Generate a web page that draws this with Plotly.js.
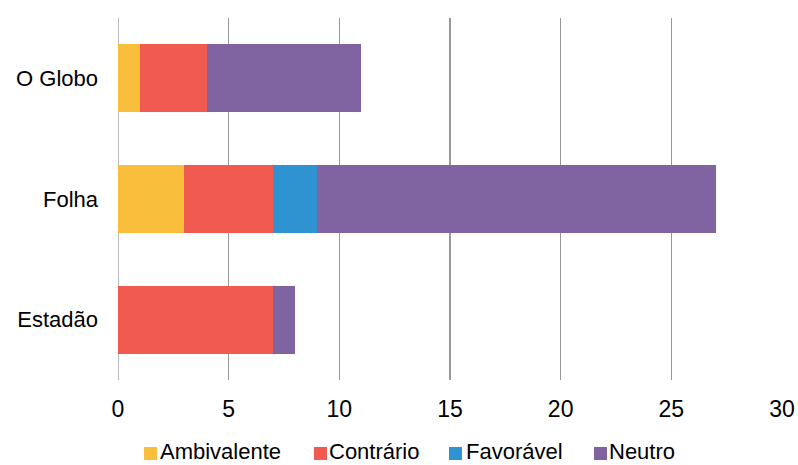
<!DOCTYPE html>
<html>
<head>
<meta charset="utf-8">
<script src="https://cdn.plot.ly/plotly-3.0.1.min.js"></script>
<style>html,body{margin:0;padding:0;background:#fff;}#chart{width:798px;height:465px;}</style>
</head>
<body>
<div id="chart"></div>
<script>
const categories = ["Estadão", "Folha", "O Globo"];
const seriesNames = ["Ambivalente", "Contrário", "Favorável", "Neutro"];
const ambivalente = [0, 3, 1];
const contrario = [7, 4, 3];
const favoravel = [0, 2, 0];
const neutro = [1, 18, 7];
const colors = ["#F9BE3C", "#F15A50", "#2E93D0", "#8064A2"];
const xTicks = [0, 5, 10, 15, 20, 25, 30];

const values = [ambivalente, contrario, favoravel, neutro];
const traces = seriesNames.map((name, i) => ({
  type: "bar",
  orientation: "h",
  name: name,
  y: categories,
  x: values[i],
  width: 0.563,
  marker: {color: colors[i], line: {width: 0}},
  showlegend: false
}));

// Custom legend (layout only): pixel positions converted to paper coords
const W = 798, H = 465, mL = 118, mR = 16, mT = 18, mB = 85;
const pw = W - mL - mR, ph = H - mT - mB;
const px = x => (x - mL) / pw;
const py = y => (H - mB - y) / ph;
const legSquareX = [144, 314, 449, 594];
const legTextX = [159, 328, 465, 608];
const shapes = [{type: "line", xref: "x", yref: "paper", x0: 0, x1: 0, y0: 0, y1: 1,
  line: {color: "#999", width: 1.3}, layer: "below"}];
const annotations = [];
seriesNames.forEach((name, i) => {
  shapes.push({type: "rect", xref: "paper", yref: "paper",
    x0: px(legSquareX[i]), x1: px(legSquareX[i] + 13),
    y0: py(460), y1: py(447), fillcolor: colors[i], line: {width: 0}});
  annotations.push({xref: "paper", yref: "paper", x: px(legTextX[i]), y: py(465),
    xanchor: "left", yanchor: "bottom", showarrow: false, text: name, borderpad: 0,
    font: {size: 22, color: "#000"}});
});

const layout = {
  width: W, height: H,
  barmode: "stack",
  margin: {l: mL, r: mR, t: mT, b: mB},
  paper_bgcolor: "#fff", plot_bgcolor: "#fff",
  font: {family: "Liberation Sans, Arial, sans-serif", size: 22, color: "#000"},
  showlegend: false,
  xaxis: {
    range: [0, 30], tickvals: xTicks, ticktext: xTicks.map(String),
    showgrid: true, gridcolor: "#999", gridwidth: 1.3,
    zeroline: false, showline: false, ticks: "", ticklabelstandoff: 13,
    tickfont: {size: 23}, fixedrange: true
  },
  yaxis: {
    range: [-0.5, 2.5],
    showgrid: false, zeroline: false, showline: false, ticks: "",
    ticklabelstandoff: 19, tickfont: {size: 22}
  },
  shapes: shapes,
  annotations: annotations
};

Plotly.newPlot("chart", traces, layout, {displayModeBar: false, staticPlot: true});
</script>
</body>
</html>
